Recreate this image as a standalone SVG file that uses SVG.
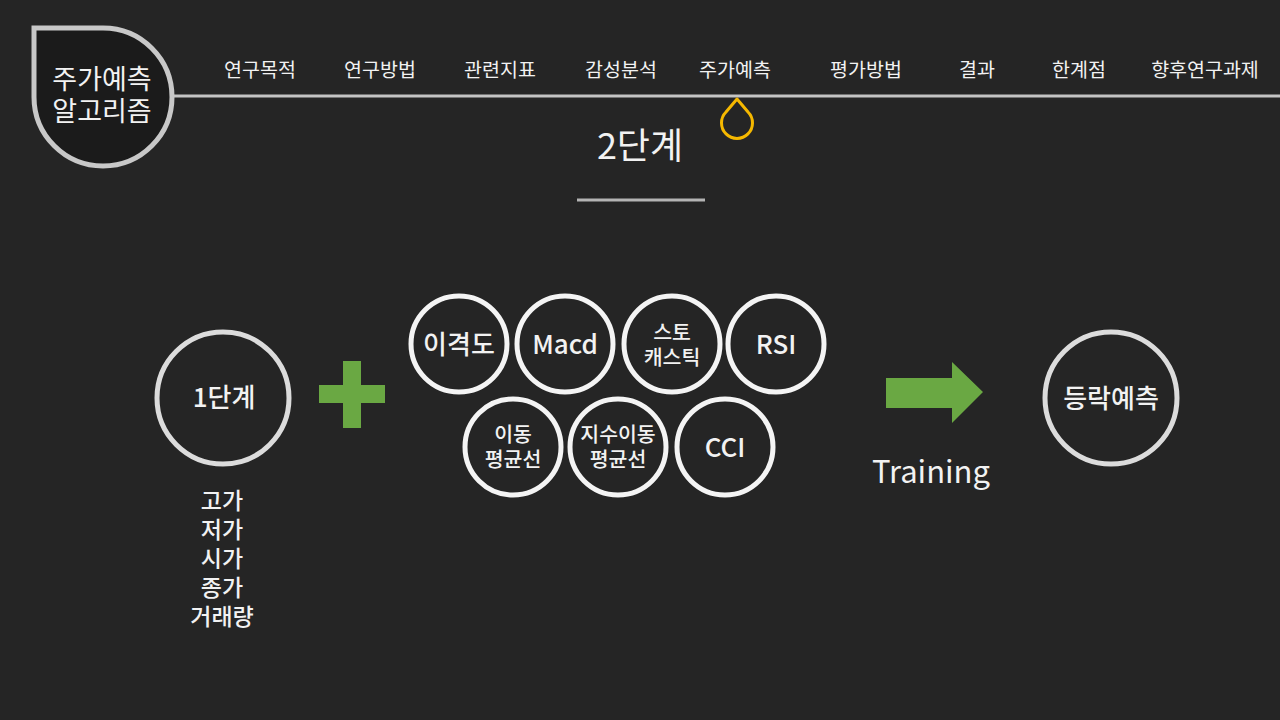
<svg xmlns="http://www.w3.org/2000/svg" width="1280" height="720" viewBox="0 0 1280 720">
<style>
text{font-family:"Noto Sans CJK KR","Noto Sans",sans-serif;fill:#f2f2f2;text-anchor:middle}
.menu{font-size:19.5px}
.big{stroke:#dcdcdc;stroke-width:5;fill:none}
.sm{stroke:#f4f4f4;stroke-width:5;fill:none}
.lbl{font-size:26px;font-weight:500}
.lbl2{font-size:20.5px;font-weight:500}
.feat{font-size:23px;font-weight:500}
</style>
<rect width="1280" height="720" fill="#252525"/>
<g id="header">
<line x1="170" y1="96" x2="1280" y2="96" stroke="#c4c4c4" stroke-width="3"/>
<path d="M34,28 H103 A69,69 0 0 1 172,97 A69,69 0 0 1 103,166 A69,69 0 0 1 34,97 Z" fill="#1b1b1b" stroke="#c8c8c8" stroke-width="5"/>
<text x="102" y="89" font-size="27">주가예측<tspan x="102" dy="32">알고리즘</tspan></text>
</g>
<g id="menu">
<text class="menu" x="260" y="77">연구목적</text>
<text class="menu" x="380" y="77">연구방법</text>
<text class="menu" x="500" y="77">관련지표</text>
<text class="menu" x="621" y="77">감성분석</text>
<text class="menu" x="735" y="77">주가예측</text>
<text class="menu" x="866" y="77">평가방법</text>
<text class="menu" x="977" y="77">결과</text>
<text class="menu" x="1079" y="77">한계점</text>
<text class="menu" x="1205" y="77">향후연구과제</text>
<path d="M737,99 L748,112 A15.5,15.5 0 1 1 726,112 Z" fill="none" stroke="#f5b800" stroke-width="3" stroke-linejoin="round"/>
</g>
<g id="title">
<text x="640" y="159" font-size="36">2단계</text>
<line x1="577" y1="200" x2="705" y2="200" stroke="#b4b4b4" stroke-width="3"/>
</g>
<g id="step1">
<circle class="big" cx="223" cy="398" r="66"/>
<text class="lbl" x="224" y="407">1단계</text>
</g>
<g id="inputs">
<text class="feat" x="222" y="509">고가<tspan x="222" dy="29">저가</tspan><tspan x="222" dy="29">시가</tspan><tspan x="222" dy="29">종가</tspan><tspan x="222" dy="29">거래량</tspan></text>
</g>
<g id="plus">
<rect x="319" y="385" width="66" height="18" fill="#6aa843"/>
<rect x="343" y="361" width="18" height="67" fill="#6aa843"/>
</g>
<g id="n1"><circle class="sm" cx="459" cy="344" r="48"/><text class="lbl" x="459" y="354">이격도</text></g>
<g id="n2"><circle class="sm" cx="565" cy="344" r="48"/><text class="lbl" x="565" y="354">Macd</text></g>
<g id="n3"><circle class="sm" cx="672" cy="344" r="48"/><text class="lbl2" x="672" y="340">스토<tspan x="672" dy="25">캐스틱</tspan></text></g>
<g id="n4"><circle class="sm" cx="776" cy="344" r="48"/><text class="lbl" x="776" y="354">RSI</text></g>
<g id="n5"><circle class="sm" cx="513" cy="447" r="48"/><text class="lbl2" x="513" y="442">이동<tspan x="513" dy="25">평균선</tspan></text></g>
<g id="n6"><circle class="sm" cx="618" cy="447" r="48"/><text class="lbl2" x="618" y="442">지수이동<tspan x="618" dy="25">평균선</tspan></text></g>
<g id="n7"><circle class="sm" cx="725" cy="447" r="48"/><text class="lbl" x="725" y="457">CCI</text></g>
<g id="connectors">
<polygon points="886,378 952,378 952,362 983,392 952,423 952,408 886,408" fill="#6aa843"/>
<text x="931" y="483" font-size="31">Training</text>
</g>
<g id="result">
<circle class="big" cx="1111" cy="398" r="66"/>
<text class="lbl" x="1111" y="408" font-size="27">등락예측</text>
</g>
</svg>
